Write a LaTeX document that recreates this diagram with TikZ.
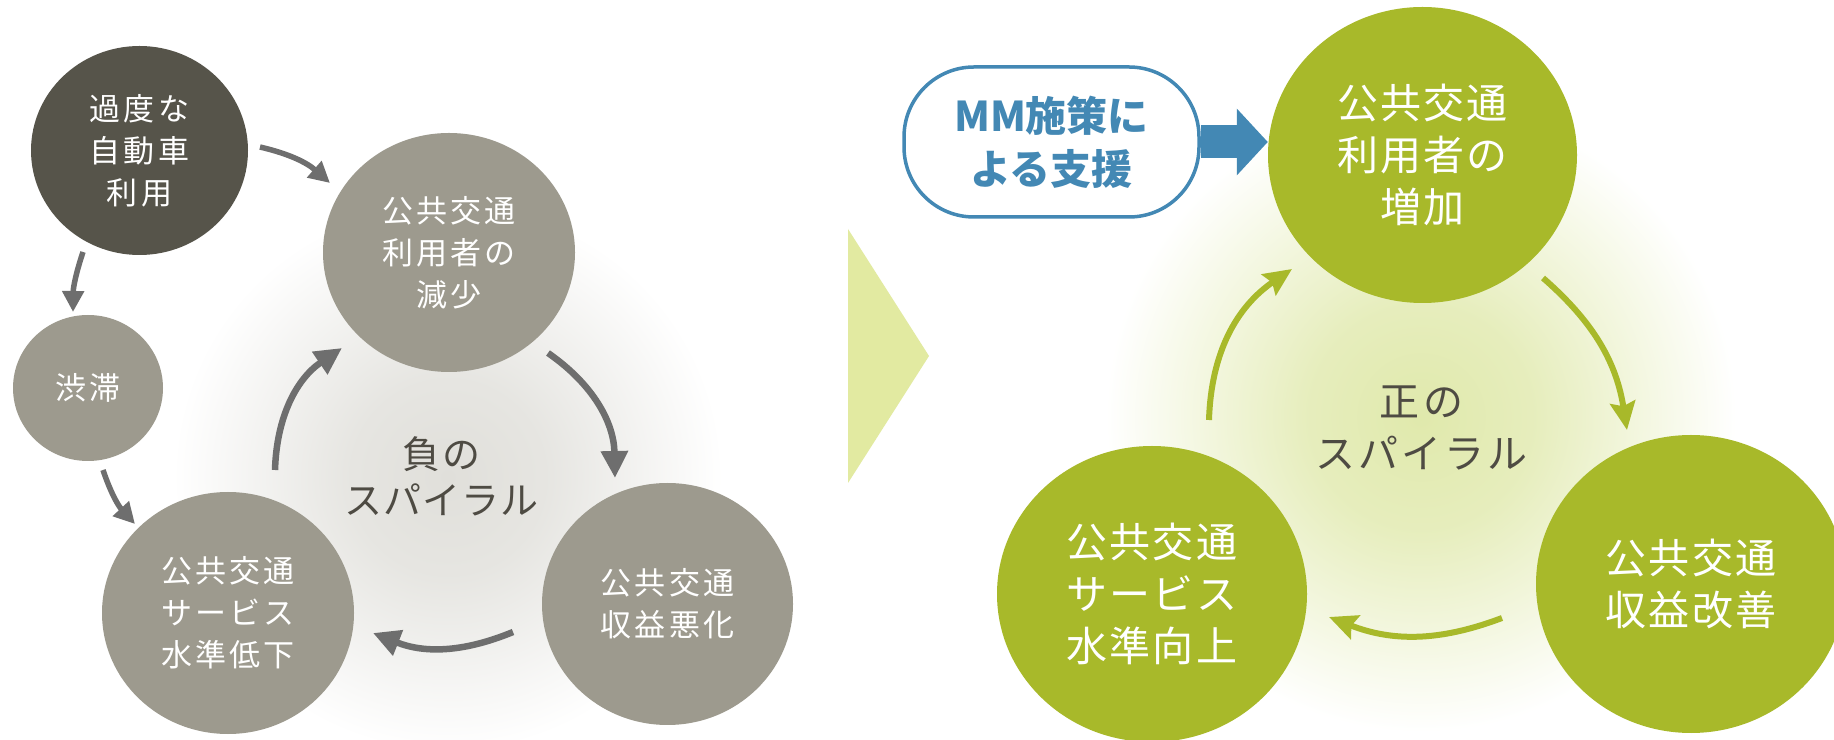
\documentclass[tikz,border=0pt]{standalone}
\usepackage{fontspec}
\setmainfont{Noto Sans CJK JP}
\newfontfamily\fL[LetterSpace=10]{Noto Sans CJK JP}
\newfontfamily\fR[LetterSpace=5]{Noto Sans CJK JP}
\newfontfamily\fS[LetterSpace=3]{Noto Sans CJK JP}
\newfontfamily\fT[LetterSpace=8]{Noto Sans CJK JP}
\usetikzlibrary{arrows.meta,shapes.geometric}
\definecolor{darkc}{HTML}{56544A}
\definecolor{grayc}{HTML}{9D9A8E}
\definecolor{arrg}{HTML}{6E6E6E}
\definecolor{grn}{HTML}{A8B92A}
\definecolor{chev}{HTML}{E2EAA1}
\definecolor{blu}{HTML}{4388B4}
\definecolor{txd}{HTML}{4E4B43}
\definecolor{glowg}{HTML}{E0DFDA}
\definecolor{glowp}{HTML}{E0E9AC}
\pgfdeclareradialshading{gglow}{\pgfpoint{0bp}{0bp}}{color(0bp)=(glowg); color(9bp)=(glowg!80!white); color(18bp)=(glowg!35!white); color(25bp)=(white); color(50bp)=(white)}
\pgfdeclareradialshading{pglow}{\pgfpoint{0bp}{0bp}}{color(0bp)=(glowp); color(9bp)=(glowp!80!white); color(18bp)=(glowp!35!white); color(25bp)=(white); color(50bp)=(white)}
\begin{document}
\begin{tikzpicture}[x=1pt,y=1pt,
 lnode/.style={ellipse, inner sep=0pt, fill=grayc, text=white, align=center, font=\fL\fontsize{31}{42}\selectfont},
 rnode/.style={ellipse, inner sep=0pt, fill=grn, text=white, align=center, font=\fR\fontsize{41}{52}\selectfont},
 garr/.style={draw=arrg, line width=6.5pt, -{Triangle[length=27pt,width=26pt]}},
 garrs/.style={draw=arrg, line width=5.5pt, -{Triangle[length=21pt,width=21pt]}},
 parr/.style={draw=grn, line width=6pt, -{Stealth[length=28pt,width=25pt,inset=4pt]}},
 spiral/.style={text=txd, align=center, inner sep=0pt}
]
\useasboundingbox (0,0) rectangle (1834,739);
\clip (0,0) rectangle (1834,739);
\fill[white] (0,0) rectangle (1834,739);
% background glows
\shade[shading=gglow] (448,262) circle (275);
\shade[shading=pglow] (1421,322) circle (315);
% chevron
\fill[chev] (848,510) -- (929,383) -- (848,256) -- cycle;

% left: negative spiral
\node[lnode, fill=darkc, minimum width=217pt, minimum height=209pt] (car) at (139.5,588.5) {過度な\\自動車\\利用};
\node[lnode, minimum width=252pt, minimum height=239pt] (dec) at (449,486.5) {公共交通\\利用者の\\減少};
\node[lnode, minimum width=150pt, minimum height=146pt] (jam) at (88,351) {渋滞};
\node[lnode, minimum width=252pt, minimum height=242pt] (svd) at (228,126) {公共交通\\サービス\\水準低下};
\node[lnode, minimum width=251pt, minimum height=242pt] (rvd) at (667.5,135) {公共交通\\収益悪化};
\node[spiral, font=\fS\fontsize{38}{46}\selectfont] (negsp) at (441.5,263) {負の\\スパイラル};

\coordinate (g0s) at (260,592); \coordinate (g0e) at (330,556);
\coordinate (g1s) at (83,487);  \coordinate (g1e) at (73,427);
\coordinate (g2s) at (103,269); \coordinate (g2e) at (135,215);
\coordinate (c1s) at (275,269); \coordinate (c1e) at (342,391);
\coordinate (c2s) at (548,386); \coordinate (c2e) at (615,261);
\coordinate (c3s) at (513,107); \coordinate (c3e) at (373,106);
\draw[garrs] (g0s) to[bend left=14] (g0e);
\draw[garrs] (g1s) to[bend right=9] (g1e);
\draw[garrs] (g2s) to[bend right=12] (g2e);
\draw[garr] (c1s) to[bend left=27] (c1e);
\draw[garr] (c2s) to[bend left=27] (c2e);
\draw[garr] (c3s) to[bend left=22] (c3e);

% right: positive spiral
\node[rnode, minimum width=309pt, minimum height=296pt] (inc) at (1422.5,584) {公共交通\\利用者の\\増加};
\node[rnode, minimum width=310pt, minimum height=296pt] (svu) at (1152,145) {公共交通\\サービス\\水準向上};
\node[rnode, minimum width=310pt, minimum height=298pt] (rvu) at (1691,155) {公共交通\\収益改善};
\node[spiral, font=\fT\fontsize{40}{52}\selectfont] (possp) at (1421.5,311) {正の\\スパイラル};

\node[draw=blu, line width=3.5pt, fill=white, rounded corners=70pt, minimum width=295pt, minimum height=150pt, text=blu, align=center, inner sep=0pt, font=\bfseries\fontsize{41}{53}\selectfont] (mm) at (1051.5,597) {MM施策に\\よる支援};
\draw[blu, line width=33pt, -{Triangle[length=31pt,width=65pt]}] (mm.east) -- (mm.east -| inc.west);

\coordinate (p1s) at (1209,319); \coordinate (p1e) at (1292,470);
\coordinate (p2s) at (1543,461); \coordinate (p2e) at (1627,309);
\coordinate (p3s) at (1502,121); \coordinate (p3e) at (1329,122);
\draw[parr] (p1s) to[bend left=27] (p1e);
\draw[parr] (p2s) to[bend left=20] (p2e);
\draw[parr] (p3s) to[bend left=21] (p3e);
\end{tikzpicture}
\end{document}
